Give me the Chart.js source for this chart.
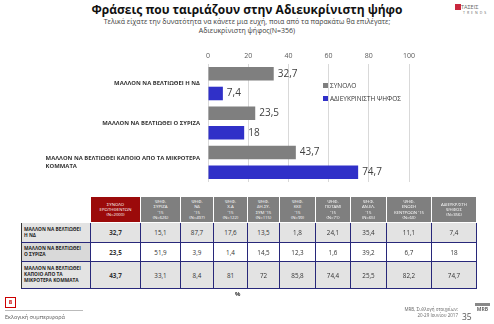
<!DOCTYPE html>
<html>
<head>
<meta charset="utf-8">
<script src="https://cdn.jsdelivr.net/npm/chart.js@4"></script>
<style>
  html, body { margin: 0; padding: 0; background: #fff; }
  body { width: 494px; height: 324px; position: relative; overflow: hidden; font-family: "Open Sans", "Liberation Sans", sans-serif; }
  .abs { position: absolute; }
  #title { left: 0; width: 494px; top: 1px; text-align: center; font: bold 12px "Open Sans", sans-serif; color: #111; }
  #sub { left: 0; width: 494px; top: 17px; text-align: center; font-size: 7px; line-height: 9px; color: #404040; }
  #chartBox { left: 0; top: 48px; width: 494px; height: 140px; }
  #legend { left: 323px; top: 79px; font-size: 6.5px; color: #333; line-height: 13px; }
  #legend span.sw { display: inline-block; width: 5px; height: 5px; margin-right: 2px; vertical-align: 0px; }
  #tbl { left: 21px; top: 196px; border-collapse: collapse; table-layout: fixed; }
  #tbl td, #tbl th { padding: 0; text-align: center; vertical-align: middle; overflow: hidden; }
  #tbl th { font-size: 4.3px; line-height: 5.2px; font-weight: normal; color: #fff; background: #7f7f7f; border: 1px solid #fff; height: 25px; }
  #tbl th.tot { background: #9b0a0a; }
  #tbl th.blank { background: #fff; }
  #tbl td { font-size: 6.3px; color: #333; border: 1px solid #28287a; }
  #tbl td.lab { text-align: left; font-weight: bold; font-size: 4.8px; line-height: 5.8px; padding-left: 2px; color: #222; background: #d9d9d9; border-left-color: #333; }
  #tbl td.b { font-weight: bold; }
  #tbl tr.g td { background: #e3e3e3; }
  #tbl tr.w td.v { background: #fff; }
  #pct { left: 235px; top: 290px; font-size: 6px; font-weight: bold; color: #333; }
  #pg { left: 5px; top: 297px; width: 9px; height: 9px; border: 1px solid #c00; color: #c00; font-size: 6px; text-align: center; line-height: 9px; font-weight: bold; }
  #line { left: 5px; top: 310px; width: 78px; height: 1px; background: #bbb; }
  #sect { left: 5px; top: 313px; font-size: 5.5px; color: #555; }
  #src { left: 380px; top: 307px; width: 78px; text-align: right; font-size: 4.5px; line-height: 5.5px; color: #666; }
  #num { left: 462px; top: 311px; font-size: 8.5px; color: #555; }
  #mrb { left: 475px; top: 303px; width: 15px; font-size: 5px; font-weight: bold; color: #666; border-top: 3px solid #888; line-height: 6px; text-align: center; }
  #logo { left: 455px; top: 4px; font-size: 5.5px; color: #666; line-height: 5px; }
  #logo b { display: inline-block; width: 6px; height: 6px; background: #c9283e; vertical-align: -1px; }
</style>
</head>
<body>
<div id="title" class="abs">Φράσεις που ταιριάζουν στην Αδιευκρίνιστη ψήφο</div>
<div id="sub" class="abs">Τελικά είχατε την δυνατότητα να κάνετε μια ευχή, ποια από τα παρακάτω θα επιλέγατε;<br>Αδιευκρίνιστη ψήφος(N=356)</div>
<div id="logo" class="abs"><b></b>ΤΑΣΕΙΣ<br><span style="font-size:3.5px;letter-spacing:2px;margin-left:8px">TRENDS</span></div>
<div id="chartBox" class="abs"><canvas id="chart" width="494" height="140"></canvas></div>
<div id="legend" class="abs"></div>
<table id="tbl" class="abs"></table>
<div id="pct" class="abs">%</div>
<div id="pg" class="abs">8</div>
<div id="line" class="abs"></div>
<div id="sect" class="abs">Εκλογική συμπεριφορά</div>
<div id="src" class="abs">MRB, Συλλογή στοιχείων:<br>20-29 Ιουνίου 2017</div>
<div id="num" class="abs">35</div>
<div id="mrb" class="abs">MRB</div>
<script>
const categories = [
  ['ΜΑΛΛΟΝ ΝΑ ΒΕΛΤΙΩΘΕΙ Η ΝΔ'],
  ['ΜΑΛΛΟΝ ΝΑ ΒΕΛΤΙΩΘΕΙ Ο ΣΥΡΙΖΑ'],
  ['ΜΑΛΛΟΝ ΝΑ ΒΕΛΤΙΩΘΕΙ ΚΑΠΟΙΟ ΑΠΟ ΤΑ ΜΙΚΡΟΤΕΡΑ', 'ΚΟΜΜΑΤΑ']
];
const seriesNames = ['ΣΥΝΟΛΟ', 'ΑΔΙΕΥΚΡΙΝΙΣΤΗ ΨΗΦΟΣ'];
const totalValues = [32.7, 23.5, 43.7];
const undecidedValues = [7.4, 18, 74.7];
const seriesColors = ['#7f7f7f', '#3030c8'];
const xTicks = [0, 20, 40, 60, 80, 100];

// table data
const tableRowLabels = [
  ['ΜΑΛΛΟΝ ΝΑ ΒΕΛΤΙΩΘΕΙ', 'Η ΝΔ'],
  ['ΜΑΛΛΟΝ ΝΑ ΒΕΛΤΙΩΘΕΙ', 'Ο ΣΥΡΙΖΑ'],
  ['ΜΑΛΛΟΝ ΝΑ ΒΕΛΤΙΩΘΕΙ', 'ΚΑΠΟΙΟ ΑΠΟ ΤΑ', 'ΜΙΚΡΟΤΕΡΑ ΚΟΜΜΑΤΑ']
];
const tableHeaders = [
  ['ΣΥΝΟΛΟ', 'ΕΡΩΤΗΘΕΝΤΩΝ', '(N=2000)'],
  ['ΨΗΦ.', 'ΣΥΡΙΖΑ', '\'15', '(N=626)'],
  ['ΨΗΦ.', 'ΝΔ', '\'15', '(N=497)'],
  ['ΨΗΦ.', 'Χ.Α', '\'15', '(N=122)'],
  ['ΨΗΦ.', 'ΔΗ.ΣΥ.', 'ΣΥΜ \'15', '(N=115)'],
  ['ΨΗΦ.', 'ΚΚΕ', '\'15', '(N=99)'],
  ['ΨΗΦ.', 'ΠΟΤΑΜΙ', '\'15', '(N=71)'],
  ['ΨΗΦ.', 'ΑΝ.ΕΛ.', '\'15', '(N=65)'],
  ['ΨΗΦ.', 'ΕΝΩΣΗ', 'ΚΕΝΤΡΩΩΝ \'15', '(N=60)'],
  ['ΑΔΙΕΥΚΡ/ΣΤΗ', 'ΨΗΦΟΣ', '(N=356)']
];
const tableRow1 = ['32,7', '15,1', '87,7', '17,6', '13,5', '1,8', '24,1', '35,4', '11,1', '7,4'];
const tableRow2 = ['23,5', '51,9', '3,9', '1,4', '14,5', '12,3', '1,6', '39,2', '6,7', '18'];
const tableRow3 = ['43,7', '33,1', '8,4', '81', '72', '85,8', '74,4', '25,5', '82,2', '74,7'];
const colWidths = [69, 50, 40, 33, 34, 32, 36, 35, 36, 45, 45];

(() => {
    const tbl = document.getElementById('tbl');
    let html = '<colgroup>' + colWidths.map(w => `<col style="width:${w}px">`).join('') + '</colgroup>';
    html += '<tr><th class="blank"></th>' + tableHeaders.map((h, i) =>
        `<th class="${i === 0 ? 'tot' : ''}">${h.join('<br>')}</th>`).join('') + '</tr>';
    const rows = [tableRow1, tableRow2, tableRow3];
    const heights = [20, 19, 27];
    rows.forEach((r, i) => {
        html += `<tr class="${i === 1 ? 'w' : 'g'}" style="height:${heights[i]}px"><td class="lab">${tableRowLabels[i].join('<br>')}</td>` +
            r.map((v, j) => `<td class="v${j === 0 ? ' b' : ''}">${v}</td>`).join('') + '</tr>';
    });
    tbl.innerHTML = html;
    tbl.style.width = colWidths.reduce((a, b) => a + b, 0) + 'px';

    document.getElementById('legend').innerHTML = seriesNames.map((n, i) =>
        `<div><span class="sw" style="background:${seriesColors[i]}"></span>${n}</div>`).join('');
})();

const valueLabels = {
    id: 'valueLabels',
    afterDatasetsDraw(chart) {
        const { ctx } = chart;
        ctx.save();
        ctx.font = '10px "Open Sans", sans-serif';
        ctx.fillStyle = '#404040';
        ctx.textBaseline = 'middle';
        ctx.textAlign = 'left';
        chart.data.datasets.forEach((ds, di) => {
            chart.getDatasetMeta(di).data.forEach((bar, i) => {
                ctx.fillText(String(ds.data[i]).replace('.', ','), bar.x + 4, bar.y);
            });
        });
        ctx.restore();
    }
};

const categoryLabels = {
    id: 'categoryLabels',
    afterDraw(chart) {
        const { ctx } = chart;
        const y = chart.scales.y;
        const right = 200;
        ctx.save();
        ctx.font = 'bold 5.9px "Open Sans", sans-serif';
        ctx.fillStyle = '#333';
        ctx.textBaseline = 'middle';
        ctx.textAlign = 'left';
        categories.forEach((lines, i) => {
            const cy = y.getPixelForValue(i);
            const w = Math.max(...lines.map(l => ctx.measureText(l).width));
            const lh = 7.5;
            const y0 = cy - (lines.length - 1) * lh / 2;
            lines.forEach((l, k) => {
                const lw = ctx.measureText(l).width;
                const x = lines.length === 1 ? right - lw : right - w;
                ctx.fillText(l, x, y0 + k * lh);
            });
        });
        ctx.restore();
    }
};

new Chart(document.getElementById('chart'), {
    type: 'bar',
    data: {
        labels: categories,
        datasets: seriesNames.map((name, i) => ({
            label: name,
            data: i === 0 ? totalValues : undecidedValues,
            backgroundColor: seriesColors[i],
            borderWidth: 0,
            categoryPercentage: 1,
            barPercentage: 0.69
        }))
    },
    options: {
        indexAxis: 'y',
        responsive: false,
        animation: false,
        layout: { padding: { left: 0, right: 85, top: 0, bottom: 6 } },
        plugins: { legend: { display: false }, tooltip: { enabled: false } },
        scales: {
            x: {
                position: 'top',
                min: 0, max: 100,
                afterBuildTicks: scale => { scale.ticks = xTicks.map(v => ({ value: v })); },
                afterFit: scale => { scale.height = 16; },
                grid: { color: '#d9d9d9', drawTicks: false },
                border: { display: false },
                ticks: { font: { size: 7, family: '"Open Sans", sans-serif' }, color: '#595959', padding: 4 }
            },
            y: {
                afterFit: scale => { scale.width = 208; },
                grid: { display: false },
                border: { display: false },
                ticks: { display: false }
            }
        }
    },
    plugins: [valueLabels, categoryLabels]
});
</script>
</body>
</html>
